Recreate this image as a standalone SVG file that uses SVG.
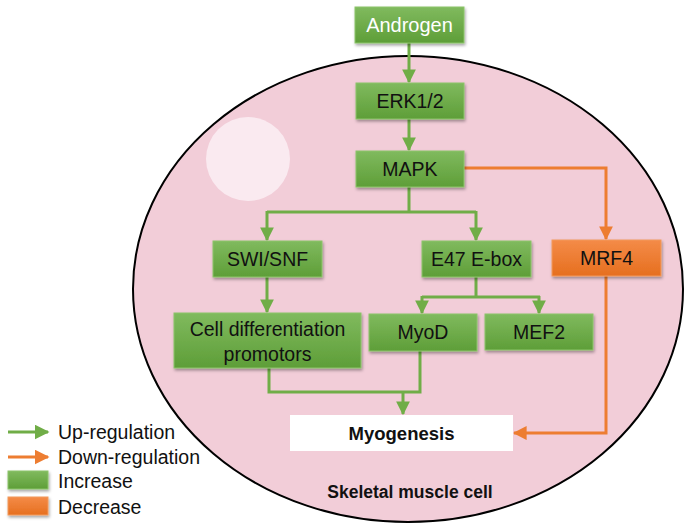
<svg xmlns="http://www.w3.org/2000/svg" width="686" height="524" viewBox="0 0 686 524">
<style>
.g{fill:url(#gg);stroke:#8cc46a;stroke-width:1;filter:url(#sh)}
.o{fill:url(#og);stroke:#f29a5c;stroke-width:1;filter:url(#sh)}
.t{font-family:"Liberation Sans",Arial,sans-serif;font-size:19.5px;fill:#111;text-anchor:middle}
.lg{font-family:"Liberation Sans",Arial,sans-serif;font-size:19.5px;fill:#111}
.b{font-family:"Liberation Sans",Arial,sans-serif;font-weight:bold;fill:#111;text-anchor:middle}
.gl{fill:none;stroke:#70ad47;stroke-width:3}
.ol{fill:none;stroke:#ed7d31;stroke-width:3}
</style>
<defs>
<linearGradient id="gg" x1="0" y1="0" x2="0" y2="1"><stop offset="0" stop-color="#80ba5e"/><stop offset="1" stop-color="#5e9e38"/></linearGradient>
<linearGradient id="og" x1="0" y1="0" x2="0" y2="1"><stop offset="0" stop-color="#f48b48"/><stop offset="1" stop-color="#e66f1f"/></linearGradient>
<filter id="sh" x="-10%" y="-20%" width="125%" height="150%"><feDropShadow dx="1" dy="2" stdDeviation="1.5" flood-color="#000" flood-opacity="0.35"/></filter>
<marker id="ga" markerWidth="4.6" markerHeight="4.6" refX="4.2" refY="2.3" orient="auto" markerUnits="strokeWidth"><path d="M0,0 L4.6,2.3 L0,4.6 z" fill="#70ad47"/></marker>
<marker id="oa" markerWidth="4.6" markerHeight="4.6" refX="4.2" refY="2.3" orient="auto" markerUnits="strokeWidth"><path d="M0,0 L4.6,2.3 L0,4.6 z" fill="#ed7d31"/></marker>
<marker id="gs" markerWidth="5" markerHeight="5" refX="4.5" refY="2.5" orient="auto" markerUnits="strokeWidth"><path d="M0,0 L5,2.5 L0,5 z" fill="#70ad47"/></marker>
<marker id="os" markerWidth="5" markerHeight="5" refX="4.5" refY="2.5" orient="auto" markerUnits="strokeWidth"><path d="M0,0 L5,2.5 L0,5 z" fill="#ed7d31"/></marker>
</defs>
<rect width="686" height="524" fill="#fff"/>
<g id="cell">
<ellipse cx="408" cy="289" rx="275" ry="233" fill="#f2cdd8" stroke="#000" stroke-width="2"/>
<circle cx="248" cy="159" r="42" fill="#faeaf0"/>
<text class="b" x="410" y="498" style="font-size:17.5px">Skeletal muscle cell</text>
</g>
<g id="connectors">
<path class="gl" d="M409,43 V82" marker-end="url(#ga)"/>
<path class="gl" d="M409,119 V150" marker-end="url(#ga)"/>
<path class="gl" d="M409,187 V212 M267,212 H476"/>
<path class="gl" d="M267,211 V240" marker-end="url(#ga)"/>
<path class="gl" d="M476,211 V240" marker-end="url(#ga)"/>
<path class="gl" d="M267,277 V312" marker-end="url(#ga)"/>
<path class="gl" d="M476,277 V297 M422,297 H540"/>
<path class="gl" d="M422,296 V313" marker-end="url(#ga)"/>
<path class="gl" d="M539,296 V313" marker-end="url(#ga)"/>
<path class="gl" d="M269,368 V392 H420 V351"/>
<path class="gl" d="M403,392 V414" marker-end="url(#ga)"/>
<path class="ol" d="M464,168 H606 V239" marker-end="url(#oa)"/>
<path class="ol" d="M606,276 V433 H514" marker-end="url(#oa)"/>
</g>
<g id="androgen"><rect class="g" x="355" y="7" width="109" height="36"/><text class="t" x="409.5" y="32" style="fill:#fff;font-size:20px">Androgen</text></g>
<g id="erk"><rect class="g" x="356" y="83" width="108" height="36"/><text class="t" x="410" y="108">ERK1/2</text></g>
<g id="mapk"><rect class="g" x="356" y="151" width="108" height="36"/><text class="t" x="410" y="176">MAPK</text></g>
<g id="swisnf"><rect class="g" x="213" y="241" width="109" height="36"/><text class="t" x="267.5" y="266">SWI/SNF</text></g>
<g id="e47"><rect class="g" x="422" y="241" width="109" height="36"/><text class="t" x="476.5" y="266">E47 E-box</text></g>
<g id="mrf4"><rect class="o" x="552" y="240" width="109" height="36"/><text class="t" x="606.5" y="265">MRF4</text></g>
<g id="celldiff"><rect class="g" x="174" y="313" width="187" height="55"/><text class="t" x="267.5" y="336">Cell differentiation</text><text class="t" x="267.5" y="361">promotors</text></g>
<g id="myod"><rect class="g" x="369" y="314" width="108" height="37"/><text class="t" x="423" y="339">MyoD</text></g>
<g id="mef2"><rect class="g" x="485" y="314" width="108" height="36"/><text class="t" x="539" y="339">MEF2</text></g>
<g id="myogenesis"><rect x="290" y="415" width="223" height="36" fill="#fff"/><text class="b" x="401.5" y="440" style="font-size:18.5px">Myogenesis</text></g>
<g id="legend">
<path class="gl" d="M8,432 H48" stroke-width="2" marker-end="url(#gs)"/>
<text class="lg" x="58" y="439">Up-regulation</text>
<path class="ol" d="M8,457 H48" stroke-width="2" marker-end="url(#os)"/>
<text class="lg" x="58" y="464">Down-regulation</text>
<rect class="g" x="8" y="471" width="40" height="18"/>
<text class="lg" x="58" y="488">Increase</text>
<rect class="o" x="8" y="497" width="40" height="18"/>
<text class="lg" x="58" y="514">Decrease</text>
</g>
</svg>
